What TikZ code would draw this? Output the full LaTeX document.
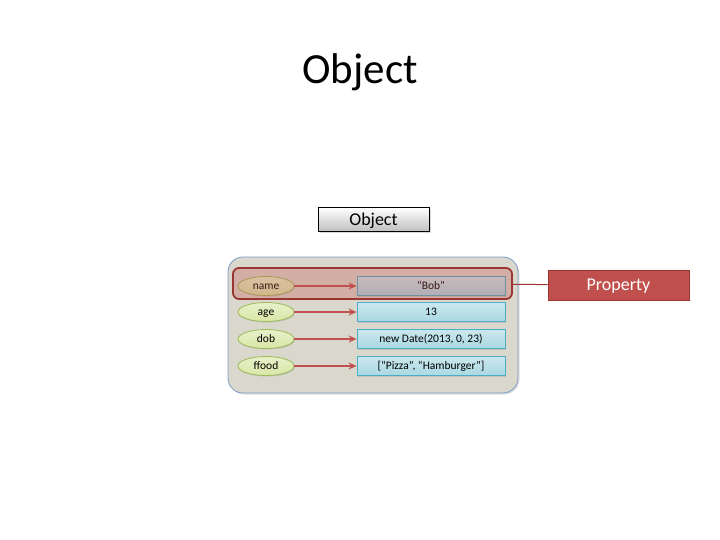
\documentclass[tikz,border=0pt]{standalone}
\usepackage{fontspec}
\setmainfont{Carlito}
\usetikzlibrary{shapes.geometric, positioning, shadows, arrows.meta}
\definecolor{boxblue}{HTML}{7B9BC8}
\definecolor{boxfill}{HTML}{DAD7CC}
\definecolor{keyfill}{HTML}{D9E6A6}
\definecolor{keyline}{HTML}{9BBB59}
\definecolor{valfill}{HTML}{A9D8E2}
\definecolor{valline}{HTML}{4BACC6}
\definecolor{propred}{HTML}{C0504D}
\definecolor{propline}{HTML}{9B3532}
\tikzset{
	key/.style={ellipse, draw=keyline, top color=keyfill!60!white, bottom color=keyfill, line width=0.8pt, minimum width=56pt, minimum height=19pt, inner sep=0pt, font=\fontsize{11.5}{13}\selectfont, text height=6.5pt, text depth=0pt, drop shadow={opacity=0.25, shadow xshift=1pt, shadow yshift=-1pt}},
	val/.style={rectangle, draw=valline, top color=valfill!60!white, bottom color=valfill, line width=0.8pt, minimum width=148pt, minimum height=19pt, inner sep=0pt, font=\fontsize{11.5}{13}\selectfont, text height=7.4pt, text depth=0pt, drop shadow={opacity=0.25, shadow xshift=1pt, shadow yshift=-1pt}},
	link/.style={-{Stealth[length=8pt, width=7pt]}, draw=propred, line width=2.2pt}
}
\begin{document}
\begin{tikzpicture}[x=1pt, y=-1pt]
	\useasboundingbox (0,0) rectangle (720,540);
	\node[font=\fontsize{43}{46}\selectfont, text height=27.7pt, text depth=0pt] (title) at (360,70) {Object};
	\node[draw=black, top color=white, bottom color=black!25, minimum width=111pt, minimum height=24pt, inner sep=0pt, font=\fontsize{18}{20}\selectfont, text height=11.6pt, text depth=0pt, drop shadow={opacity=0.3, shadow xshift=1.5pt, shadow yshift=-1.5pt}] (objbox) at (373.5,219.5) {Object};
	\draw[draw=boxblue, fill=boxfill, line width=0.8pt, rounded corners=15pt, drop shadow={opacity=0.25, shadow xshift=1.5pt, shadow yshift=-1.5pt}] (228,257) rectangle (518,393);
	\node[key] (nameKey) at (266,286) {name};
	\node[key] (ageKey) at (266,312) {age};
	\node[key] (dobKey) at (266,339) {dob};
	\node[key] (ffoodKey) at (266,366) {ffood};
	\node[val] (nameVal) at (431,286) {“Bob”};
	\node[val] (ageVal) at (431,312) {13};
	\node[val] (dobVal) at (431,339) {new Date(2013, 0, 23)};
	\node[val] (ffoodVal) at (431,366) {[“Pizza”, “Hamburger”]};
	\draw[link] (nameKey) -- (nameVal);
	\draw[link] (ageKey) -- (ageVal);
	\draw[link] (dobKey) -- (dobVal);
	\draw[link] (ffoodKey) -- (ffoodVal);
	% highlighted row
	\node[draw=propline, fill=propred, fill opacity=0.3, draw opacity=1, line width=1.8pt, rounded corners=6pt, minimum width=279pt, minimum height=31pt, inner sep=0pt] (row) at (372.5,283.5) {};
	\node[draw=propline, fill=propred, line width=0.8pt, minimum width=141pt, minimum height=30pt, inner sep=0pt, text=white, font=\fontsize{18}{20}\selectfont, text height=11.6pt, text depth=0pt, drop shadow={opacity=0.25, shadow xshift=1pt, shadow yshift=-1pt}] (prop) at (618.5,285) {Property};
	\draw[draw=propline, line width=1pt] (row) -- (prop);
\end{tikzpicture}
\end{document}
